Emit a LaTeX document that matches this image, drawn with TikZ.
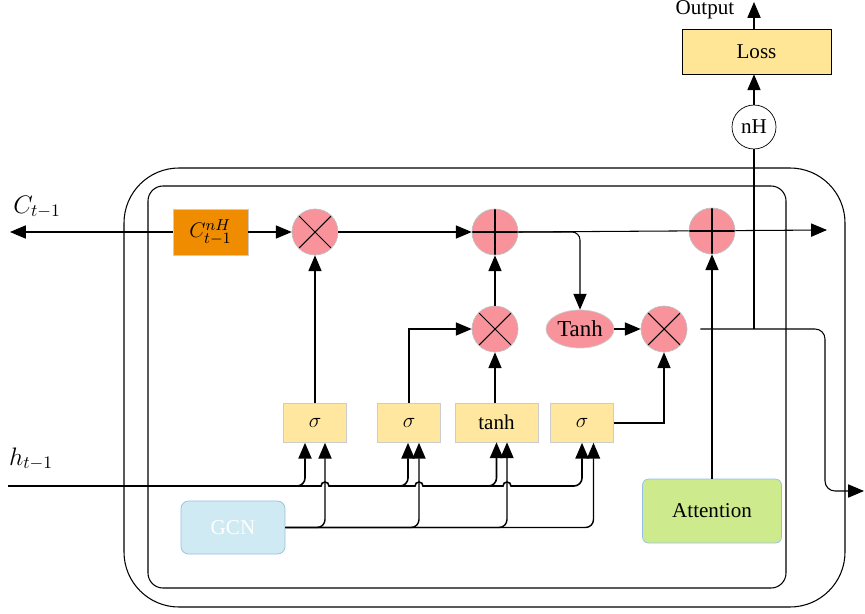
\documentclass[tikz,border=0pt]{standalone}
\usepackage{fontspec}
\setmainfont{Liberation Serif}
\usetikzlibrary{positioning, arrows.meta, shapes.geometric, calc}
\usepackage{xcolor}
\definecolor{cellpink}{RGB}{248,146,155}
\definecolor{corange}{RGB}{240,140,0}
\definecolor{gateyellow}{RGB}{255,231,160}
\definecolor{lossyellow}{RGB}{255,230,150}
\definecolor{gcnblue}{RGB}{208,234,244}
\definecolor{gcnborder}{RGB}{150,190,228}
\definecolor{attgreen}{RGB}{205,235,140}

\tikzset{
  arr/.style={-{Triangle[length=9pt,width=7.5pt]}, line width=0.6pt},
  op/.style={circle, draw=gray!50, fill=cellpink, minimum size=0.92cm, inner sep=0pt},
  mulop/.style={op, path picture={\draw[black, line width=0.6pt] (path picture bounding box.north west) -- (path picture bounding box.south east) (path picture bounding box.north east) -- (path picture bounding box.south west);}},
  plusop/.style={op, path picture={\draw[black, line width=0.6pt] (path picture bounding box.north) -- (path picture bounding box.south) (path picture bounding box.west) -- (path picture bounding box.east);}},
  gatebox/.style={draw=gray!40, fill=gateyellow, minimum width=1.26cm, minimum height=0.78cm}
}

\begin{document}
\begin{tikzpicture}[x=0.02cm, y=0.02cm, every node/.style={font=\fontsize{12}{14}\selectfont}]
  \useasboundingbox (0,0) rectangle (865,613);

  % cell frames
  \draw[line width=0.6pt, rounded corners=1.1cm] (124,6) rectangle (845,445);
  \draw[line width=0.6pt, rounded corners=0.3cm] (148,25) rectangle (786,427);

  % operators and gates
  \node[draw=gray!40, fill=corange, minimum width=1.5cm, minimum height=0.92cm, font=\fontsize{13}{15}\selectfont] (cprev) at (210.5,381) {$C^{nH}_{t-1}$};
  \node[mulop] (mul1) at (315,381) {};
  \node[plusop] (plus2) at (495,381) {};
  \node[mulop] (mul3) at (495,284) {};
  \node[ellipse, draw=gray!40, fill=cellpink, minimum width=1.36cm, minimum height=0.76cm, inner sep=0pt, font=\fontsize{13}{15}\selectfont] (tanh) at (580,284) {Tanh};
  \node[mulop] (mul4) at (664,284) {};
  \node[gatebox] (sig1) at (315,190) {$\sigma$};
  \node[gatebox] (sig2) at (409,190) {$\sigma$};
  \node[gatebox, minimum width=1.66cm] (tanhg) at (496.5,190.5) {tanh};
  \node[gatebox] (sig4) at (582,190) {$\sigma$};
  \node[draw=gcnborder, fill=gcnblue, text=white, rounded corners=0.15cm, minimum width=2.08cm, minimum height=1.06cm] (gcn) at (233,85.5) {GCN};
  \node[draw=gcnborder, fill=attgreen, rounded corners=0.12cm, minimum width=2.78cm, minimum height=1.28cm] (att) at (712,102) {Attention};
  \node[circle, draw, fill=white, minimum size=0.88cm, inner sep=0pt] (nh) at (754,486) {nH};
  \node[draw, fill=lossyellow, minimum width=2.98cm, minimum height=0.9cm] (loss) at (756.5,561.5) {Loss};

  % labels and free ends
  \node[font=\fontsize{14}{16}\selectfont] (clbl) at (37,406) {$C_{t-1}$};
  \node[font=\fontsize{14}{16}\selectfont] (hlbl) at (31,154) {$h_{t-1}$};
  \node (outlbl) at (705,603) {Output};
  \coordinate (cleft) at (10,381);
  \coordinate (cright) at (827,383);
  \coordinate (hin) at (8,127);
  \coordinate (hout) at (864,122);
  \coordinate (obend) at (825,122);
  \coordinate (out) at (754,611);
  \coordinate (ostart) at ([xshift=0.26cm]mul4.east);

  % gate inputs
  \coordinate (s1h) at ([xshift=-0.2cm]sig1.south);
  \coordinate (s1g) at ([xshift=0.2cm]sig1.south);
  \coordinate (s2h) at ([xshift=-0.02cm]sig2.south);
  \coordinate (s2g) at ([xshift=0.2cm]sig2.south);
  \coordinate (s3h) at (tanhg.south);
  \coordinate (s3g) at ([xshift=0.21cm]tanhg.south);
  \coordinate (s4h) at (sig4.south);
  \coordinate (s4g) at ([xshift=0.23cm]sig4.south);

  % cell state path
  \draw[arr] (cprev.west) -- (cleft);
  \draw[arr] (cprev.east) -- (mul1.west);
  \draw[arr] (mul1.east) -- (plus2.west);
  \draw[arr] (plus2.east) -- (cright);
  \node[plusop] (plus3) at (712,382) {};
  \draw[arr, rounded corners=0.16cm] (plus2.east) -| (tanh.north);
  \draw[arr] (tanh.east) -- (mul4.west);
  \draw[arr] (mul3.north) -- (plus2.south);

  % gates to operators
  \draw[arr] (sig1.north) -- (mul1.south);
  \draw[arr] (sig2.north) |- (mul3.west);
  \draw[arr] (tanhg.north -| mul3) -- (mul3.south);
  \draw[arr] (sig4.east) -| (mul4.south);
  \draw[arr] (att.north) -- (plus3.south);

  % hidden input with hops
  \draw[arr, line width=0.9pt] (hin) -- ($(s1g |- hin)+(-0.08cm,0)$) arc(180:0:0.08cm)
    -- ($(s2g |- hin)+(-0.08cm,0)$) arc(180:0:0.08cm)
    -- ($(s3g |- hin)+(-0.08cm,0)$) arc(180:0:0.08cm)
    [rounded corners=0.16cm] -| (s4h);
  \draw[arr, line width=0.9pt, rounded corners=0.16cm] (hin) -| (s1h);
  \draw[arr, line width=0.9pt, rounded corners=0.16cm] ($(s2h |- hin)+(-0.4cm,0)$) -| (s2h);
  \draw[arr, line width=0.9pt, rounded corners=0.16cm] ($(s3h |- hin)+(-0.4cm,0)$) -| (s3h);

  % GCN input
  \draw[arr, line width=0.8pt, rounded corners=0.16cm] (gcn.east) -| (s1g);
  \draw[arr, line width=0.8pt, rounded corners=0.16cm] (gcn.east) -| (s2g);
  \draw[arr, line width=0.8pt, rounded corners=0.16cm] (gcn.east) -| (s3g);
  \draw[arr, line width=0.8pt, rounded corners=0.16cm] (gcn.east) -| (s4g);

  % output side
  \draw[arr, rounded corners=0.2cm] (ostart) -| (obend) -- (hout);
  \draw[line width=0.6pt] (nh.south) -- (nh.south |- ostart);
  \draw[arr] (nh.north) -- (nh.north |- loss.south);
  \draw[arr] (loss.north -| nh) -- (out);
\end{tikzpicture}
\end{document}
